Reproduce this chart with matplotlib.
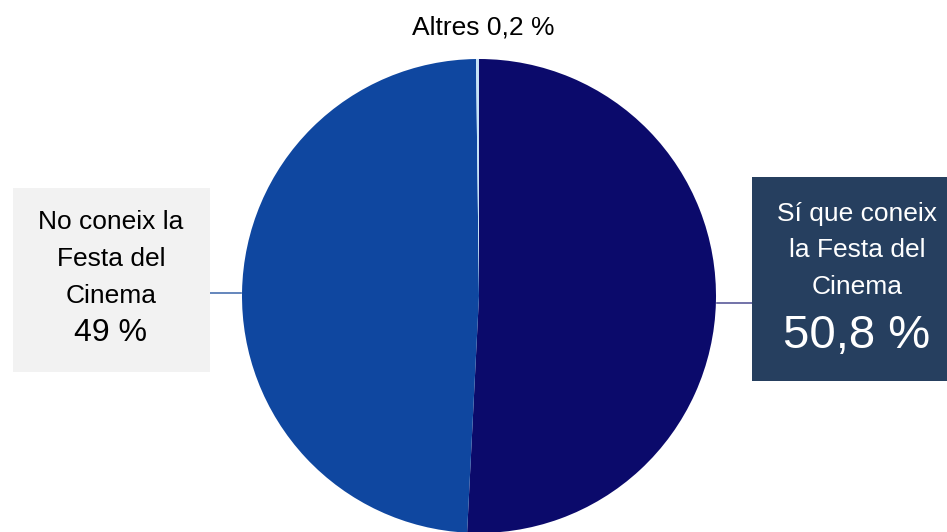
import matplotlib
matplotlib.use("Agg")
import matplotlib.pyplot as plt
from matplotlib.patches import Rectangle

plt.rcParams['font.family'] = ['Liberation Sans', 'DejaVu Sans']

categories = ["Sí que coneix la Festa del Cinema", "No coneix la Festa del Cinema", "Altres"]
values = [50.8, 49.0, 0.2]
value_labels = ["50,8 %", "49 %", "0,2 %"]
colors = ["#0b0a6b", "#0f47a0", "#c5e3f6"]

W, H = 947, 532
fig = plt.figure(figsize=(W / 100, H / 100), dpi=100)
ax = fig.add_axes([0, 0, 1, 1])
ax.set_xlim(0, W)
ax.set_ylim(0, H)
ax.set_aspect('equal')
ax.axis('off')

def Y(py):
    return H - py

ax.pie(values, colors=colors, startangle=90, counterclock=False,
       center=(479, Y(296)), radius=237, frame=True,
       wedgeprops=dict(linewidth=0))
ax.set_xlim(0, W)
ax.set_ylim(0, H)
ax.axis('off')

# Altres label
ax.text(483, Y(27), f"{categories[2]} {value_labels[2]}", ha='center', va='center',
        fontsize=19, color='black')

# Left box (No coneix)
ax.add_patch(Rectangle((13, Y(372)), 197, 184, facecolor='#f2f2f2', edgecolor='none', zorder=3))
ax.plot([210, 241], [Y(293), Y(293)], color='#4a72b0', lw=1.2, zorder=2)
for txt, py, fs in [("No coneix la", 222, 19), ("Festa del", 259, 19), ("Cinema", 296, 19),
                    (value_labels[1], 333, 23)]:
    ax.text(111, Y(py), txt, ha='center', va='center', fontsize=fs, color='black', zorder=4)

# Right box (Sí que coneix)
ax.add_patch(Rectangle((752, Y(381)), 195, 204, facecolor='#263f5f', edgecolor='none', zorder=3))
ax.plot([717, 752], [Y(303), Y(303)], color='#5a5a9a', lw=1.2, zorder=2)
for txt, py, fs in [("Sí que coneix", 214, 19), ("la Festa del", 250, 19), ("Cinema", 287, 19),
                    (value_labels[0], 336, 34)]:
    ax.text(857, Y(py), txt, ha='center', va='center', fontsize=fs, color='white', zorder=4)

fig.savefig("out.png", dpi=100)
